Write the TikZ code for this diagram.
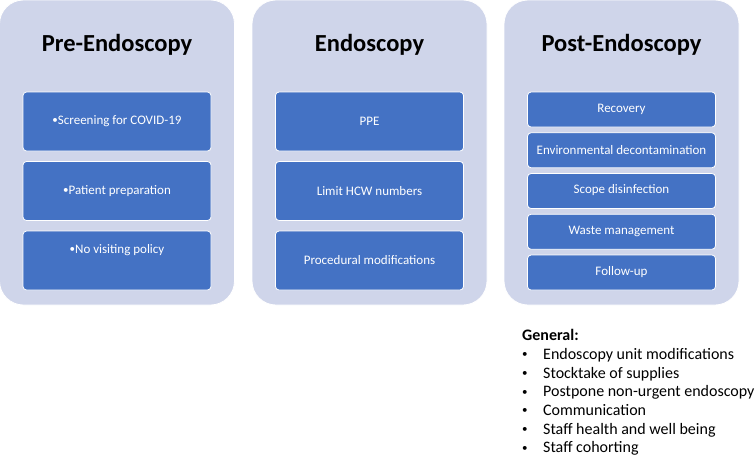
\documentclass[tikz,border=0pt]{standalone}
\usepackage{fontspec}
\setmainfont{Carlito}
\definecolor{panelfill}{RGB}{207,213,234}
\definecolor{boxfill}{RGB}{68,114,196}
\newcommand{\smallbul}{{\fontsize{11}{11}\selectfont\raisebox{1.2pt}{•}}}
\tikzset{
  panel/.style={rectangle, rounded corners=24pt, fill=panelfill, draw=white, line width=0.8pt, minimum width=235pt, minimum height=305pt, inner sep=0pt},
  ptitle/.style={font=\fontsize{24.5}{28}\selectfont\bfseries, text=black, inner sep=0pt},
  ibox/.style={rectangle, rounded corners=3.5pt, fill=boxfill, draw=white, line width=0.8pt, minimum width=188pt, inner sep=0pt},
  bigbox/.style={ibox, minimum height=59pt},
  smallbox/.style={ibox, minimum height=35pt},
  itext/.style={font=\fontsize{13}{15}\selectfont, text=white, inner sep=0pt},
  gtext/.style={font=\fontsize{16}{19}\selectfont, text=black, inner sep=0pt, anchor=base west},
}
\begin{document}
\begin{tikzpicture}[x=1pt,y=-1pt]
\useasboundingbox (0,0) rectangle (755,456);
% panels
\node[panel] (pre) at (117,152.5) {};
\node[panel] (endo) at (369.5,152.5) {};
\node[panel] (post) at (621.5,152.5) {};
% titles
\node[ptitle] (pret) at (117,45) {Pre-Endoscopy};
\node[ptitle] (endot) at (369.5,45) {Endoscopy};
\node[ptitle] (postt) at (621.5,45) {Post-Endoscopy};
% pre boxes
\node[bigbox] (pre1) at (117,121.5) {};
\node[bigbox] (pre2) at (117,191) {};
\node[bigbox] (pre3) at (117,260.5) {};
\node[itext] (pre1t) at (117,121) {\smallbul Screening for COVID-19};
\node[itext] (pre2t) at (117,191) {\smallbul Patient preparation};
\node[itext] (pre3t) at (117,250) {\smallbul No visiting policy};
% endo boxes
\node[bigbox] (endo1) at (369.5,121.5) {};
\node[bigbox] (endo2) at (369.5,191) {};
\node[bigbox] (endo3) at (369.5,260.5) {};
\node[itext] (endo1t) at (369.5,121) {PPE};
\node[itext] (endo2t) at (369.5,191) {Limit HCW numbers};
\node[itext] (endo3t) at (369.5,260) {Procedural modifications};
% post boxes
\node[smallbox] (post1) at (621.5,109.5) {};
\node[smallbox] (post2) at (621.5,150.25) {};
\node[smallbox] (post3) at (621.5,191) {};
\node[smallbox] (post4) at (621.5,231.75) {};
\node[smallbox] (post5) at (621.5,272.5) {};
\node[itext] (post1t) at (621.5,109) {Recovery};
\node[itext] (post2t) at (621.5,150) {Environmental decontamination};
\node[itext] (post3t) at (621.5,190.5) {Scope disinfection};
\node[itext] (post4t) at (621.5,231) {Waste management};
\node[itext] (post5t) at (621.5,272) {Follow-up};
% general
\node[gtext, font=\fontsize{16}{19}\selectfont\bfseries] (gen) at (522,340.5) {General:};
\node[gtext] (g1b) at (522,359) {\smallbul};
\node[gtext] (g1) at (543,359) {Endoscopy unit modifications};
\node[gtext] (g2b) at (522,378) {\smallbul};
\node[gtext] (g2) at (543,378) {Stocktake of supplies};
\node[gtext] (g3b) at (522,396.5) {\smallbul};
\node[gtext] (g3) at (543,396.5) {Postpone non-urgent endoscopy};
\node[gtext] (g4b) at (522,415) {\smallbul};
\node[gtext] (g4) at (543,415) {Communication};
\node[gtext] (g5b) at (522,434) {\smallbul};
\node[gtext] (g5) at (543,434) {Staff health and well being};
\node[gtext] (g6b) at (522,452.5) {\smallbul};
\node[gtext] (g6) at (543,452.5) {Staff cohorting};
\end{tikzpicture}
\end{document}
